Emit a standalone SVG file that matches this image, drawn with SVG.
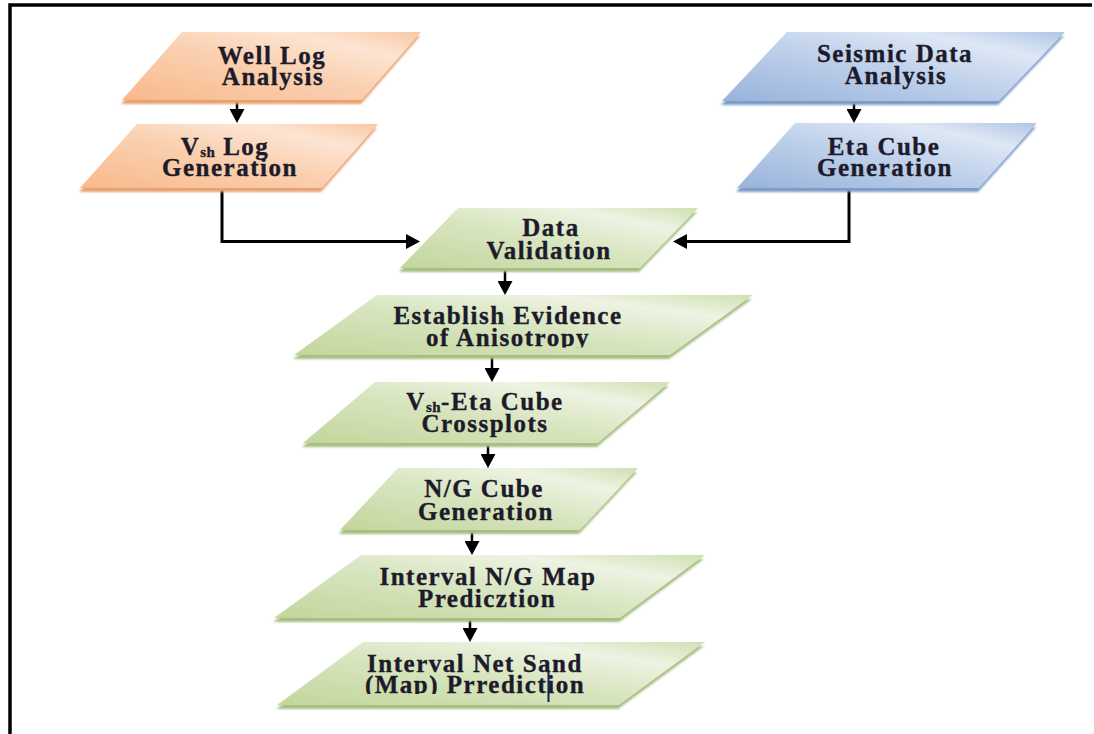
<svg xmlns="http://www.w3.org/2000/svg" width="1094" height="734" viewBox="0 0 1094 734">
  <defs>
    <linearGradient id="gOrange" x1="0" y1="1" x2="1" y2="0">
      <stop offset="0" stop-color="#f8b98b"/>
      <stop offset="0.5" stop-color="#fad1b2"/>
      <stop offset="0.78" stop-color="#fde5d3"/>
      <stop offset="1" stop-color="#f9c7a2"/>
    </linearGradient>
    <linearGradient id="gBlue" x1="0" y1="1" x2="1" y2="0">
      <stop offset="0" stop-color="#97b3db"/>
      <stop offset="0.5" stop-color="#c1d2eb"/>
      <stop offset="0.78" stop-color="#dee8f5"/>
      <stop offset="1" stop-color="#b0c5e5"/>
    </linearGradient>
    <linearGradient id="gGreen" x1="0" y1="1" x2="1" y2="0">
      <stop offset="0" stop-color="#c2d69b"/>
      <stop offset="0.5" stop-color="#d9e6c2"/>
      <stop offset="0.78" stop-color="#eef3e3"/>
      <stop offset="1" stop-color="#cfe0b1"/>
    </linearGradient>
    <filter id="soft" x="-5%" y="-10%" width="110%" height="130%">
      <feGaussianBlur stdDeviation="0.8"/>
    </filter>
    <marker id="arrow" viewBox="0 0 15 15" refX="0" refY="7.5" markerWidth="15" markerHeight="15" markerUnits="userSpaceOnUse" orient="auto">
      <path d="M0,0 L14,7.5 L0,15 Z" fill="#000"/>
    </marker>
    <clipPath id="clipAniso"><rect x="280" y="290" width="480" height="57.5"/></clipPath>
    <clipPath id="clipNet"><rect x="270" y="640" width="440" height="54"/></clipPath>
  </defs>
  <style>
    .sh-o { fill: #e6a272; filter: url(#soft); }
    .sh-b { fill: #7f9cc7; filter: url(#soft); }
    .sh-g { fill: #a8be82; filter: url(#soft); }
    .f-o { fill: url(#gOrange); }
    .f-b { fill: url(#gBlue); }
    .f-g { fill: url(#gGreen); }
    .t { font-family: "Liberation Serif", "Times New Roman", serif; font-weight: bold; font-size: 25px; letter-spacing: 1.5px; fill: #1d1b2b; stroke: #1d1b2b; stroke-width: 0.35px; text-anchor: middle; }
    .sub { font-size: 15px; letter-spacing: 0.5px; }
    .conn { fill: none; stroke: #000; stroke-width: 3; }
    .down { fill: none; stroke: #000; stroke-width: 2.5; }
  </style>

  <rect x="0" y="0" width="1094" height="734" fill="#ffffff"/>
  <path d="M10,734 V5 H1092" fill="none" stroke="#000" stroke-width="3.5"/>

  <g id="connectors">
    <line class="down" x1="237" y1="100" x2="237" y2="109" marker-end="url(#arrow)"/>
    <line class="down" x1="854" y1="101" x2="854" y2="109" marker-end="url(#arrow)"/>
    <polyline class="conn" points="222,189 222,241.5 406,241.5" marker-end="url(#arrow)"/>
    <polyline class="conn" points="849,188 849,241.5 687,241.5" marker-end="url(#arrow)"/>
    <line class="down" x1="505" y1="268" x2="505" y2="281" marker-end="url(#arrow)"/>
    <line class="down" x1="492" y1="356" x2="492" y2="368" marker-end="url(#arrow)"/>
    <line class="down" x1="488" y1="444" x2="488" y2="454" marker-end="url(#arrow)"/>
    <line class="down" x1="472" y1="531" x2="472" y2="541" marker-end="url(#arrow)"/>
    <line class="down" x1="470" y1="619" x2="470" y2="628" marker-end="url(#arrow)"/>
  </g>

  <g id="well-log-analysis">
    <polygon class="sh-o" points="182,32 421,32 362,100 122,100" transform="translate(-1,4)"/>
    <polygon class="f-o" points="182,32 421,32 362,100 122,100"/>
    <text class="t" x="272" y="64">Well Log</text>
    <text class="t" x="273" y="85">Analysis</text>
  </g>

  <g id="vsh-log-generation">
    <polygon class="sh-o" points="137,124 378,124 322,188 80,188" transform="translate(-1,4)"/>
    <polygon class="f-o" points="137,124 378,124 322,188 80,188"/>
    <text class="t" x="225" y="155">V<tspan class="sub" dy="2">sh</tspan><tspan dy="-2"> Log</tspan></text>
    <text class="t" x="230" y="176">Generation</text>
  </g>

  <g id="seismic-data-analysis">
    <polygon class="sh-b" points="787,32 1065,32 999,101 722,101" transform="translate(-1,4)"/>
    <polygon class="f-b" points="787,32 1065,32 999,101 722,101"/>
    <text class="t" x="895" y="62">Seismic Data</text>
    <text class="t" x="896" y="84">Analysis</text>
  </g>

  <g id="eta-cube-generation">
    <polygon class="sh-b" points="795,123 1037,123 979,188 737,188" transform="translate(-1,4)"/>
    <polygon class="f-b" points="795,123 1037,123 979,188 737,188"/>
    <text class="t" x="884" y="155">Eta Cube</text>
    <text class="t" x="885" y="176">Generation</text>
  </g>

  <g id="data-validation">
    <polygon class="sh-g" points="458,208 698,208 640,268 400,268" transform="translate(-1,4)"/>
    <polygon class="f-g" points="458,208 698,208 640,268 400,268"/>
    <text class="t" x="551" y="236">Data</text>
    <text class="t" x="549" y="259">Validation</text>
  </g>

  <g id="establish-evidence">
    <polygon class="sh-g" points="377,295 753,295 670,355 294,355" transform="translate(-1,4)"/>
    <polygon class="f-g" points="377,295 753,295 670,355 294,355"/>
    <text class="t" x="508" y="324">Establish Evidence</text>
    <text class="t" x="508" y="346" clip-path="url(#clipAniso)">of Anisotropy</text>
  </g>

  <g id="vsh-eta-crossplots">
    <polygon class="sh-g" points="375,382 670,382 598,443 303,443" transform="translate(-1,4)"/>
    <polygon class="f-g" points="375,382 670,382 598,443 303,443"/>
    <text class="t" x="485" y="410">V<tspan class="sub" dy="2">sh</tspan><tspan dy="-2">-Eta Cube</tspan></text>
    <text class="t" x="485" y="432">Crossplots</text>
  </g>

  <g id="ng-cube-generation">
    <polygon class="sh-g" points="398,468 638,468 580,530 340,530" transform="translate(-1,4)"/>
    <polygon class="f-g" points="398,468 638,468 580,530 340,530"/>
    <text class="t" x="484" y="497">N/G Cube</text>
    <text class="t" x="486" y="520">Generation</text>
  </g>

  <g id="interval-ng-map">
    <polygon class="sh-g" points="361,555 705,555 620,618 274,618" transform="translate(-1,4)"/>
    <polygon class="f-g" points="361,555 705,555 620,618 274,618"/>
    <text class="t" x="488" y="585">Interval N/G Map</text>
    <text class="t" x="487" y="607">Predicztion</text>
  </g>

  <g id="interval-net-sand">
    <polygon class="sh-g" points="363,642 705,642 619,705 277,705" transform="translate(-1,4)"/>
    <polygon class="f-g" points="363,642 705,642 619,705 277,705"/>
    <text class="t" x="475" y="672">Interval Net Sand</text>
    <text class="t" x="475" y="693" clip-path="url(#clipNet)">(Map) Prrediction</text>
    <line x1="548.5" y1="670" x2="548.5" y2="702" stroke="#1a1f4a" stroke-width="2"/>
  </g>
</svg>
